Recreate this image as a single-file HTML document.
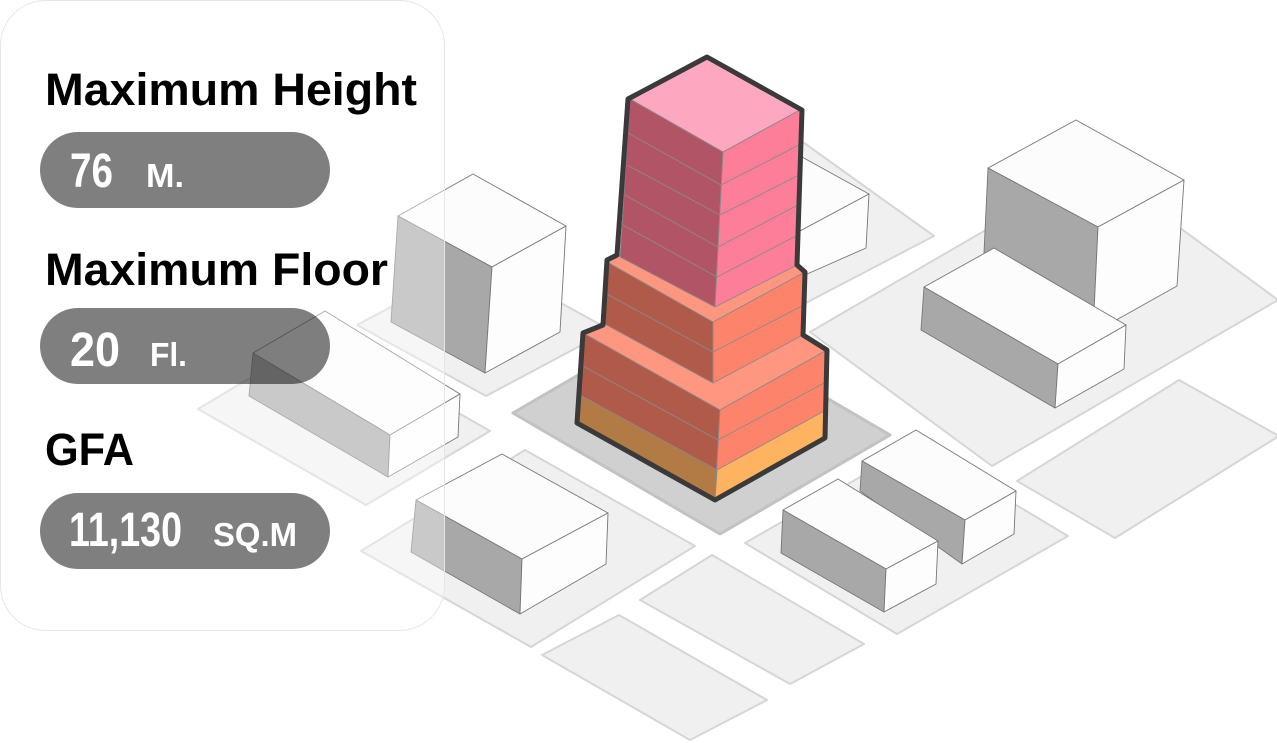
<!DOCTYPE html>
<html><head><meta charset="utf-8"><style>
html,body{margin:0;padding:0;background:#fff;}
svg{display:block;}
text{font-family:"Liberation Sans",sans-serif;font-weight:bold;}
</style></head><body>
<svg width="1277" height="743" viewBox="0 0 1277 743" xmlns="http://www.w3.org/2000/svg">
<g fill="#f0f0f0" stroke="#d6d6d6" stroke-width="2" stroke-linejoin="round">
  <polygon points="322,335 490,431 366,505 198,409"/>
  <polygon points="481,259 610,330 486,396 357,325"/>
  <polygon points="525,450 695,546 531,647 361,551"/>
  <polygon points="712,555 864,644 790,684 640,600"/>
  <polygon points="619,615 767,700 690,740 542,655"/>
  <polygon points="916,445 1068,536 897,634 745,543"/>
  <polygon points="1179,380 1279,436 1115,538 1017,481"/>
  <polygon points="1096,166 1278,300 992,466 810,332"/>
  <polygon points="800,140 934,236 800,306 660,220"/>
</g>
<g stroke="#777" stroke-width="0.9" stroke-linejoin="round">
  <polygon points="473,174 566,226 492,267 398,216" fill="#fdfcfd"/>
  <polygon points="398,216 492,267 485,373 391,322" fill="#a8a8a8"/>
  <polygon points="492,267 566,226 560,332 485,373" fill="#fdfdfd"/>
  <polygon points="325,311 460,394 390,435 253,353" fill="#fdfcfd"/>
  <polygon points="253,353 390,435 388,477 249,396" fill="#a8a8a8"/>
  <polygon points="390,435 460,394 458,437 388,477" fill="#fdfdfd"/>
  <polygon points="502,454 608,513 522,559 416,500" fill="#fdfcfd"/>
  <polygon points="416,500 522,559 520,614 411,552" fill="#a8a8a8"/>
  <polygon points="522,559 608,513 606,564 520,614" fill="#fdfdfd"/>
  <polygon points="916,430 1016,491 965,520 862,461" fill="#fdfcfd"/>
  <polygon points="862,461 965,520 962,564 860,491" fill="#a8a8a8"/>
  <polygon points="965,520 1016,491 1014,534 962,564" fill="#fdfdfd"/>
  <polygon points="838,479 938,541 886,569 783,510" fill="#fdfcfd"/>
  <polygon points="783,510 886,569 884,612 781,553" fill="#a8a8a8"/>
  <polygon points="886,569 938,541 936,584 884,612" fill="#fdfdfd"/>
  <polygon points="1076,120 1184,180 1098,227 988,168" fill="#fdfcfd"/>
  <polygon points="988,168 1098,227 1093,333 983,274" fill="#a8a8a8"/>
  <polygon points="1098,227 1184,180 1177,286 1093,333" fill="#fdfdfd"/>
  <polygon points="994,248 1126,325 1058,364 924,287" fill="#fdfcfd"/>
  <polygon points="924,287 1058,364 1055,408 921,330" fill="#a8a8a8"/>
  <polygon points="1058,364 1126,325 1124,369 1055,408" fill="#fdfdfd"/>
  <polygon points="735,125 802,157 869,194 800,231 720,190" fill="#fdfcfd"/>
  <polygon points="800,231 869,194 866,248 798,278" fill="#fdfdfd"/>
</g>
<polygon points="683,314 890,435 720,534 513,413" fill="#d0d0d0" stroke="#c2c2c2" stroke-width="3" stroke-linejoin="round"/>
<g stroke="#8a8a8a" stroke-width="0.9" stroke-linejoin="round">
  <polygon points="583,333 690,273 827,350 720,410" fill="#fe9680"/>
  <polygon points="583,333 720,410 715,500 577,423" fill="#b05a4a"/>
  <polygon points="580,395 717,470 715,500 577,423" fill="#b27a45"/>
  <polygon points="720,410 827,350 825,438 715,500" fill="#fd846a"/>
  <polygon points="717,470 826,410 825,438 715,500" fill="#fdb35f"/>
  <line x1="581" y1="365" x2="718" y2="440"/>
  <line x1="718" y1="440" x2="826" y2="382"/>
  <polygon points="607,262 700,212 805,272 713,322" fill="#fe9680"/>
  <polygon points="607,262 713,322 713,383 603,323" fill="#b05a4a"/>
  <polygon points="713,322 805,272 803,335 713,383" fill="#fd846a"/>
  <line x1="605" y1="293" x2="713" y2="352"/>
  <line x1="713" y1="352" x2="804" y2="305"/>
  <polygon points="707,57 800,110 723,152 630,99" fill="#fea7c0"/>
  <polygon points="630,99 723,152 715,307 620,257" fill="#b15566"/>
  <polygon points="723,152 800,110 797,265 715,307" fill="#fd7e98"/>
  <line x1="628" y1="133" x2="721" y2="185"/>
  <line x1="627" y1="165" x2="720" y2="215"/>
  <line x1="625" y1="195" x2="718" y2="247"/>
  <line x1="623" y1="225" x2="717" y2="277"/>
  <line x1="721" y1="185" x2="799" y2="145"/>
  <line x1="720" y1="215" x2="799" y2="175"/>
  <line x1="718" y1="247" x2="798" y2="205"/>
  <line x1="717" y1="277" x2="798" y2="235"/>
</g>
<polygon points="707,57 802,110 797,265 805,272 803,335 827,350 825,438 715,500 577,423 583,333 603,325 607,260 617,255 628,99" fill="none" stroke="#3a3a3a" stroke-width="5" stroke-linejoin="round"/>
<rect x="0.5" y="0.5" width="444" height="630" rx="45" fill="rgba(255,255,255,0.38)" stroke="#e6e6e6" stroke-width="1"/>
<text x="45" y="105" font-size="45" textLength="372" lengthAdjust="spacingAndGlyphs" fill="#000">Maximum Height</text>
<rect x="40" y="132" width="290" height="76" rx="38" fill="rgba(0,0,0,0.5)"/>
<text x="70" y="187" font-size="48" textLength="43" lengthAdjust="spacingAndGlyphs" fill="#fff">76</text>
<text x="146" y="187" font-size="33" textLength="38" lengthAdjust="spacingAndGlyphs" fill="#fff">M.</text>
<text x="45" y="285" font-size="45" textLength="343" lengthAdjust="spacingAndGlyphs" fill="#000">Maximum Floor</text>
<rect x="40" y="308" width="290" height="76" rx="38" fill="rgba(0,0,0,0.5)"/>
<text x="70" y="366" font-size="48" textLength="50" lengthAdjust="spacingAndGlyphs" fill="#fff">20</text>
<text x="150" y="366" font-size="33" textLength="37" lengthAdjust="spacingAndGlyphs" fill="#fff">Fl.</text>
<text x="45" y="465" font-size="45" textLength="89" lengthAdjust="spacingAndGlyphs" fill="#000">GFA</text>
<rect x="40" y="493" width="290" height="76" rx="38" fill="rgba(0,0,0,0.5)"/>
<text x="69" y="546" font-size="48" textLength="113" lengthAdjust="spacingAndGlyphs" fill="#fff">11,130</text>
<text x="213" y="546" font-size="33" textLength="84" lengthAdjust="spacingAndGlyphs" fill="#fff">SQ.M</text>
</svg>
</body></html>
